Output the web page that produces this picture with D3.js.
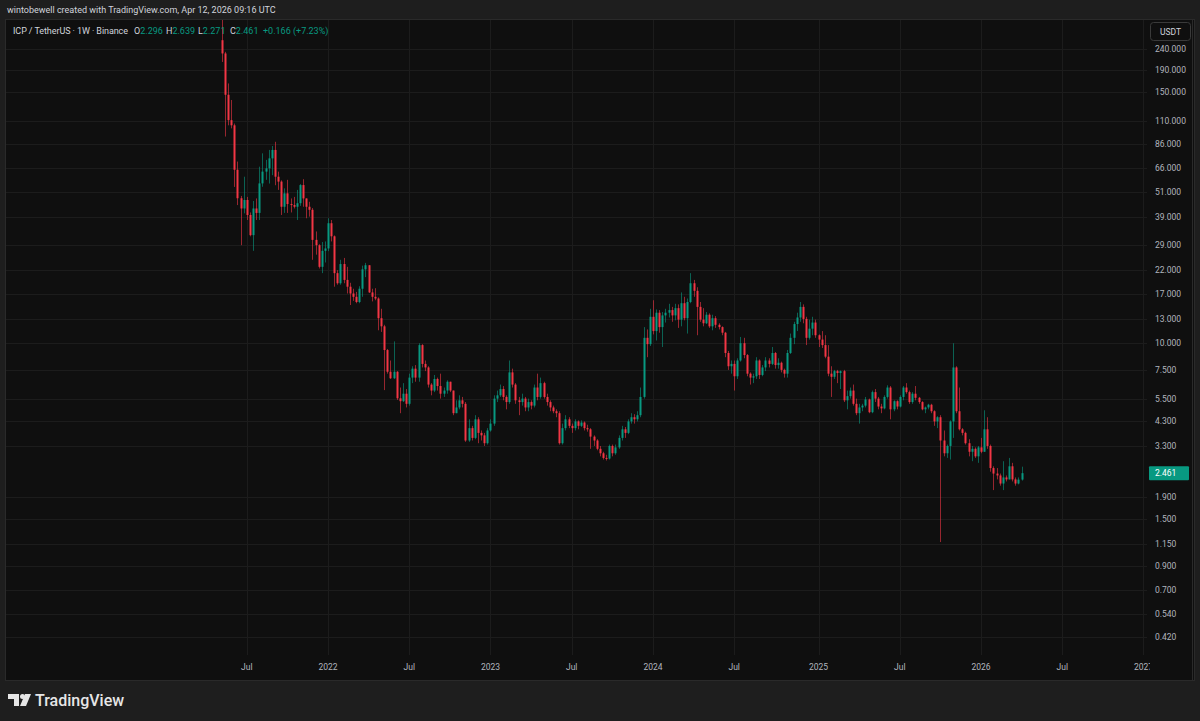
<!DOCTYPE html>
<html>
<head>
<meta charset="utf-8">
<title>ICP / TetherUS 1W</title>
<script src="https://cdn.jsdelivr.net/npm/d3@7"></script>
<style>
    html, body { margin: 0; padding: 0; background: #1e1e1e; overflow: hidden; }
    svg { display: block; }
</style>
</head>
<body>
<svg id="chart" width="1200" height="721"></svg>
<script>
// Weekly candles, ICPUSDT on Binance, first bar week of 2021-05-10
const firstWeek = '2021-05-10';

const opens = [
    263, 228, 146, 111, 105, 65, 47.8, 42.8, 46.9, 39.9,
    32.1, 42.8, 40.8, 56.1, 63.7, 66, 73.5, 80.5, 60.3, 57.2,
    43.6, 50.4, 44.9, 44.4, 43.6, 45.3, 55.1, 47.7, 43.6, 42.2,
    30.5, 28.8, 22.8, 27.1, 27.8, 36.5, 31.7, 21.3, 19.1, 23.5,
    19.8, 18.4, 17.1, 16.5, 15.6, 18.0, 22.2, 23.2, 17.3, 16.5,
    16.2, 13.1, 12.0, 9.29, 7.35, 6.85, 7.35, 5.52, 5.35, 5.8,
    5.2, 6.9, 7.6, 6.9, 9.8, 8.0, 7.7, 6.4, 6.0, 6.8,
    6.3, 5.8, 6.0, 6.6, 6.0, 4.7, 5.0, 5.4, 5.2, 3.5,
    4.0, 3.6, 4.4, 3.8, 3.7, 3.4, 3.9, 4.2, 5.5, 5.7,
    6.1, 5.6, 5.3, 7.3, 6.4, 5.4, 5.3, 5.5, 5.0, 5.3,
    5.1, 6.2, 5.6, 6.5, 5.6, 5.3, 5.0, 4.8, 4.7, 3.4,
    4.0, 4.4, 4.1, 4.0, 4.3, 4.1, 4.25, 4.0, 3.95, 3.65,
    3.5, 3.2, 3.05, 2.9, 2.88, 3.3, 3.05, 3.25, 3.6, 3.95,
    3.8, 4.3, 4.5, 4.4, 4.6, 5.6, 10.6, 9.9, 13.3, 11.4,
    13.9, 11.9, 13.5, 13.9, 14.3, 13.5, 14.6, 12.9, 15.4, 13.1,
    15.6, 19.1, 17.6, 14.8, 12.9, 12.4, 13.6, 12.0, 13.1, 12.2,
    11.9, 11.2, 9.0, 7.8, 8.0, 7.0, 8.3, 10.0, 8.8, 7.2,
    6.9, 7.0, 8.3, 7.1, 7.7, 8.3, 8.0, 9.0, 7.9, 8.1,
    7.5, 7.2, 9.0, 10.6, 12.3, 13.2, 14.8, 13.0, 10.6, 11.7,
    12.5, 10.9, 10.4, 9.8, 8.65, 7.2, 6.96, 7.4, 7.25, 7.4,
    5.4, 5.65, 6.0, 5.2, 4.7, 5.0, 5.1, 5.45, 4.75, 5.9,
    5.5, 5.05, 4.95, 5.6, 6.2, 4.9, 5.35, 5.05, 5.6, 6.2,
    5.9, 5.3, 5.8, 5.55, 5.3, 4.9, 5.0, 5.15, 4.8, 4.3,
    4.5, 3.5, 3.05, 3.3, 4.3, 7.7, 4.8, 3.95, 3.8, 3.4,
    3.1, 3.2, 2.95, 3.25, 3.1, 3.95, 3.3, 2.6, 2.45, 2.4,
    2.2, 2.35, 2.3, 2.65, 2.3, 2.2, 2.296
];

const highs = [
    750, 232, 165, 138, 107, 71, 49, 60.3, 48.5, 41,
    46.4, 47.7, 67.2, 77.6, 72.3, 80.5, 84, 87.9, 63.7, 58,
    53.2, 58.3, 47.7, 48.5, 52.3, 55.7, 58.7, 47.7, 46, 43,
    33.4, 29.1, 29.8, 30, 38.5, 37.8, 32, 22, 24.6, 25.1,
    22.8, 19.2, 18, 17.4, 18.5, 23.1, 23.8, 23.2, 18, 18.1,
    16.4, 14.5, 12.2, 9.4, 8.3, 10.2, 7.4, 6.2, 6.5, 6.1,
    7.2, 7.8, 7.9, 10.0, 9.9, 8.3, 7.8, 6.5, 7.1, 6.9,
    7.2, 6.2, 6.7, 6.6, 6.0, 5.4, 5.7, 5.6, 5.3, 4.4,
    4.1, 4.6, 4.5, 3.9, 3.8, 4.0, 4.4, 5.7, 6.0, 6.4,
    6.3, 5.7, 8.3, 7.6, 6.5, 5.6, 5.8, 5.6, 5.5, 5.4,
    6.4, 7.2, 6.9, 6.6, 5.8, 5.4, 5.1, 4.9, 4.8, 4.2,
    4.6, 4.5, 4.2, 4.4, 4.35, 4.35, 4.3, 4.15, 4.0, 3.7,
    3.55, 3.3, 3.1, 3.0, 3.35, 3.35, 3.35, 3.7, 4.1, 4.05,
    4.4, 4.7, 4.65, 4.8, 6.2, 11.9, 11.6, 14.5, 15.9, 14.4,
    14.3, 14.0, 14.5, 15.3, 14.8, 15.3, 15.2, 17.3, 16.5, 16.2,
    21.3, 19.8, 18.3, 15.6, 14.6, 14.0, 13.8, 13.6, 13.4, 12.4,
    12.0, 11.3, 9.2, 8.3, 8.3, 8.5, 10.7, 10.6, 8.9, 7.3,
    7.2, 8.6, 8.4, 7.9, 8.6, 8.5, 9.6, 9.1, 8.5, 8.2,
    7.6, 9.3, 11.1, 12.6, 13.9, 15.6, 15.2, 13.3, 12.9, 13.3,
    12.9, 11.0, 11.4, 10.9, 9.8, 7.8, 7.5, 7.5, 7.45, 7.5,
    6.0, 6.2, 6.4, 5.5, 5.2, 5.2, 5.6, 5.5, 6.0, 6.1,
    5.6, 5.2, 5.7, 6.35, 6.3, 5.4, 5.4, 5.7, 6.3, 6.5,
    6.0, 5.9, 6.3, 5.6, 5.35, 5.05, 5.2, 5.2, 4.85, 4.55,
    4.6, 3.9, 3.35, 4.35, 10.0, 7.8, 6.2, 4.0, 3.85, 3.55,
    3.3, 3.25, 3.3, 3.6, 4.85, 4.5, 3.35, 2.65, 2.6, 2.45,
    2.8, 2.4, 2.9, 2.75, 2.35, 2.35, 2.639
];

const lows = [
    208, 93, 105, 101.6, 54, 44.4, 28.8, 40.6, 37.8, 31.7,
    27.1, 37.8, 37.8, 54.1, 58.3, 56, 61.3, 55, 52.3, 39.9,
    40.8, 40.8, 41, 42.8, 37.8, 44, 43.6, 38.5, 39.2, 24.6,
    26, 22.4, 21.3, 23.9, 27, 30, 18.4, 18.8, 18.8, 19.1,
    17.1, 15.1, 15.8, 15.4, 15.4, 16.5, 20.4, 17.2, 15.7, 15.9,
    11.5, 11.3, 6.03, 7.2, 6.8, 6.8, 5.42, 4.7, 5.3, 5.0,
    5.1, 6.5, 6.6, 6.6, 7.7, 7.4, 6.2, 5.7, 5.9, 6.0,
    5.5, 5.6, 5.8, 5.9, 4.6, 4.7, 4.9, 5.0, 3.45, 3.45,
    3.5, 3.55, 3.4, 3.5, 3.3, 3.35, 3.85, 4.1, 5.3, 5.6,
    5.4, 4.9, 5.2, 6.2, 5.2, 4.6, 5.1, 4.8, 4.8, 4.9,
    5.0, 5.4, 5.5, 5.5, 5.1, 4.8, 4.7, 4.5, 3.35, 3.35,
    3.9, 4.0, 3.8, 3.9, 3.95, 4.05, 3.9, 3.85, 3.2, 3.3,
    3.15, 2.95, 2.85, 2.82, 2.85, 2.95, 3.0, 3.2, 3.5, 3.6,
    3.75, 4.2, 4.2, 4.3, 4.5, 5.5, 8.6, 9.7, 11.0, 10.3,
    11.2, 9.6, 12.5, 13.2, 12.6, 12.8, 11.8, 12.0, 12.8, 11.1,
    15.4, 16.5, 10.9, 12.6, 12.0, 12.3, 11.8, 11.5, 11.8, 11.6,
    10.9, 8.6, 7.5, 7.2, 6.0, 6.8, 8.2, 8.5, 7.0, 6.4,
    6.5, 6.8, 6.8, 7.0, 7.4, 7.7, 7.9, 7.6, 7.6, 7.3,
    6.9, 6.9, 8.9, 9.9, 11.4, 12.6, 12.4, 9.8, 10.4, 10.9,
    10.6, 9.6, 9.5, 8.5, 7.0, 5.6, 6.8, 6.5, 6.1, 5.3,
    4.9, 5.5, 5.1, 4.6, 4.2, 4.8, 5.0, 4.7, 4.7, 5.3,
    4.9, 4.7, 4.9, 5.5, 4.4, 4.8, 4.9, 5.0, 5.4, 5.8,
    5.2, 5.2, 5.4, 5.2, 4.85, 4.7, 4.9, 4.7, 4.1, 4.0,
    1.17, 2.95, 2.9, 2.85, 3.6, 4.7, 3.9, 3.7, 3.35, 2.95,
    2.8, 2.9, 2.75, 3.05, 3.1, 3.2, 2.5, 2.05, 2.3, 2.15,
    2.05, 2.25, 2.3, 2.25, 2.15, 2.18, 2.271
];

const closes = [
    228, 146, 111, 105, 65, 47.8, 42.8, 46.9, 39.9, 32.1,
    42.8, 40.8, 56.1, 63.7, 66, 73.5, 80.5, 60.3, 57.2, 43.6,
    50.4, 44.9, 44.4, 43.6, 45.3, 55.1, 47.7, 43.6, 42.2, 30.5,
    28.8, 22.8, 27.1, 27.8, 36.5, 31.7, 21.3, 19.1, 23.5, 19.8,
    18.4, 17.1, 16.5, 15.6, 18.0, 22.2, 23.2, 17.3, 16.5, 16.2,
    13.1, 12.0, 9.29, 7.35, 6.85, 7.35, 5.52, 5.35, 5.8, 5.2,
    6.9, 7.6, 6.9, 9.8, 8.0, 7.7, 6.4, 6.0, 6.8, 6.3,
    5.8, 6.0, 6.6, 6.0, 4.7, 5.0, 5.4, 5.2, 3.5, 4.0,
    3.6, 4.4, 3.8, 3.7, 3.4, 3.9, 4.2, 5.5, 5.7, 6.1,
    5.6, 5.3, 7.3, 6.4, 5.4, 5.3, 5.5, 5.0, 5.3, 5.1,
    6.2, 5.6, 6.5, 5.6, 5.3, 5.0, 4.8, 4.7, 3.4, 4.0,
    4.4, 4.1, 4.0, 4.3, 4.1, 4.25, 4.0, 3.95, 3.65, 3.5,
    3.2, 3.05, 2.9, 2.88, 3.3, 3.05, 3.25, 3.6, 3.95, 3.8,
    4.3, 4.5, 4.4, 4.6, 5.6, 10.6, 9.9, 13.3, 11.4, 13.9,
    11.9, 13.5, 13.9, 14.3, 13.5, 14.6, 12.9, 15.4, 13.1, 15.6,
    19.1, 17.6, 14.8, 12.9, 12.4, 13.6, 12.0, 13.1, 12.2, 11.9,
    11.2, 9.0, 7.8, 8.0, 7.0, 8.3, 10.0, 8.8, 7.2, 6.9,
    7.0, 8.3, 7.1, 7.7, 8.3, 8.0, 9.0, 7.9, 8.1, 7.5,
    7.2, 9.0, 10.6, 12.3, 13.2, 14.8, 13.0, 10.6, 11.7, 12.5,
    10.9, 10.4, 9.8, 8.65, 7.2, 6.96, 7.4, 7.25, 7.4, 5.4,
    5.65, 6.0, 5.2, 4.7, 5.0, 5.1, 5.45, 4.75, 5.9, 5.5,
    5.05, 4.95, 5.6, 6.2, 4.9, 5.35, 5.05, 5.6, 6.2, 5.9,
    5.3, 5.8, 5.55, 5.3, 4.9, 5.0, 5.15, 4.8, 4.3, 4.5,
    3.5, 3.05, 3.3, 4.3, 7.7, 4.8, 3.95, 3.8, 3.4, 3.1,
    3.2, 2.95, 3.25, 3.1, 3.95, 3.3, 2.6, 2.45, 2.4, 2.2,
    2.35, 2.3, 2.65, 2.3, 2.2, 2.295, 2.461
];

const priceTicks = [240, 190, 150, 110, 86, 66, 51, 39, 29, 22, 17, 13, 10, 7.5, 5.5, 4.3, 3.3, 1.9, 1.5, 1.15, 0.9, 0.7, 0.54, 0.42];
const timeTickDates = ['2021-07-05', '2022-01-03', '2022-07-04', '2023-01-02', '2023-07-03', '2024-01-01',
    '2024-07-01', '2025-01-06', '2025-07-07', '2026-01-05', '2026-07-06', '2027-01-04'];
const timeTickLabels = ['Jul', '2022', 'Jul', '2023', 'Jul', '2024', 'Jul', '2025', 'Jul', '2026', 'Jul', '2027'];

const headerText = 'wintobewell created with TradingView.com, Apr 12, 2026 09:16 UTC';
const symbolText = 'ICP / TetherUS \u00b7 1W \u00b7 Binance';

(function() {
    'use strict';

    const UP = '#089981';
    const DOWN = '#f23645';
    const FONT = 'Roboto, "Noto Sans", sans-serif';

    class WeeklyCandleChart {
        constructor(svgId) {
            this.svg = d3.select(svgId);
            this.pane = { left: 6, right: 1147, top: 20, bottom: 655 };
            this.bars = this.buildBars();
            this.init();
        }

        buildBars() {
            const start = d3.utcParse('%Y-%m-%d')(firstWeek);
            return closes.map((c, i) => ({
                date: d3.utcWeek.offset(start, i),
                open: opens[i],
                high: highs[i],
                low: lows[i],
                close: c
            }));
        }

        init() {
            const parse = d3.utcParse('%Y-%m-%d');
            // anchors: 2022 bar at x=328, 2026 bar at x=981
            this.x = d3.scaleUtc()
                .domain([parse('2022-01-03'), parse('2026-01-05')])
                .range([328, 981]);
            this.y = d3.scaleLog()
                .domain([0.42, 240])
                .range([637, 48.7]);

            this.drawFrame();
            this.drawGrid(parse);
            this.drawCandles();
            this.drawPriceAxis();
            this.drawTimeAxis(parse);
            this.drawLegend();
            this.drawFooter();
        }

        drawFrame() {
            const p = this.pane;
            this.svg.append('rect')
                .attr('x', 0).attr('y', 0).attr('width', 1200).attr('height', 721)
                .attr('fill', '#1e1e1e');
            this.svg.append('rect')
                .attr('x', p.left - 0.5).attr('y', p.top - 0.5)
                .attr('width', 1195 - p.left).attr('height', 681 - p.top)
                .attr('fill', '#0f0f0f')
                .attr('stroke', '#2a2a2a');

            this.svg.append('text')
                .attr('x', 7).attr('y', 13)
                .attr('fill', '#d1d4dc')
                .attr('font-family', FONT)
                .attr('font-size', 9)
                .text(headerText);

            const defs = this.svg.append('defs');
            defs.append('clipPath').attr('id', 'pane-clip')
                .append('rect')
                .attr('x', p.left).attr('y', p.top)
                .attr('width', p.right - p.left).attr('height', p.bottom - p.top);
            defs.append('clipPath').attr('id', 'time-clip')
                .append('rect')
                .attr('x', p.left).attr('y', p.bottom)
                .attr('width', 1150 - p.left).attr('height', 26);
        }

        drawGrid(parse) {
            const p = this.pane;
            const grid = this.svg.append('g').attr('clip-path', 'url(#pane-clip)');
            grid.selectAll('line.h')
                .data(priceTicks)
                .enter().append('line')
                .attr('class', 'h')
                .attr('x1', p.left).attr('x2', p.right)
                .attr('y1', d => Math.round(this.y(d)) + 0.5)
                .attr('y2', d => Math.round(this.y(d)) + 0.5)
                .attr('stroke', '#1c1c1c');
            grid.selectAll('line.v')
                .data(timeTickDates)
                .enter().append('line')
                .attr('class', 'v')
                .attr('x1', d => Math.round(this.x(parse(d))) + 0.5)
                .attr('x2', d => Math.round(this.x(parse(d))) + 0.5)
                .attr('y1', p.top).attr('y2', p.bottom)
                .attr('stroke', '#1c1c1c');
        }

        drawCandles() {
            const g = this.svg.append('g').attr('clip-path', 'url(#pane-clip)');
            const candle = g.selectAll('g.candle')
                .data(this.bars)
                .enter().append('g')
                .attr('class', 'candle');

            candle.append('line')
                .attr('x1', d => Math.round(this.x(d.date)) + 0.5)
                .attr('x2', d => Math.round(this.x(d.date)) + 0.5)
                .attr('y1', d => this.y(d.high))
                .attr('y2', d => this.y(d.low))
                .attr('stroke', d => d.close >= d.open ? UP : DOWN)
                .attr('stroke-opacity', 0.6)
                .attr('stroke-width', 1);

            candle.append('rect')
                .attr('x', d => Math.round(this.x(d.date)) - 0.5)
                .attr('width', 2)
                .attr('y', d => this.y(Math.max(d.open, d.close)))
                .attr('height', d => Math.max(1, this.y(Math.min(d.open, d.close)) - this.y(Math.max(d.open, d.close))))
                .attr('fill', d => d.close >= d.open ? UP : DOWN);
        }

        drawPriceAxis() {
            const axis = this.svg.append('g');
            axis.selectAll('text')
                .data(priceTicks)
                .enter().append('text')
                .attr('x', 1155)
                .attr('y', d => this.y(d) + 3)
                .attr('fill', '#b2b5be')
                .attr('font-family', FONT)
                .attr('font-size', 8.5)
                .text(d => d3.format('.3f')(d));

            // currency box
            axis.append('rect')
                .attr('x', 1150.5).attr('y', 22.5).attr('width', 40).attr('height', 18).attr('rx', 3)
                .attr('fill', '#0f0f0f').attr('stroke', '#3a3a3a');
            axis.append('text')
                .attr('x', 1170.5).attr('y', 34.5)
                .attr('text-anchor', 'middle')
                .attr('fill', '#d1d4dc')
                .attr('font-family', FONT)
                .attr('font-size', 8.5)
                .text('USDT');

            // last price label
            const last = this.bars[this.bars.length - 1];
            const ly = this.y(last.close);
            axis.append('rect')
                .attr('x', 1149).attr('y', ly - 7).attr('width', 40).attr('height', 14)
                .attr('fill', UP).attr('rx', 1);
            axis.append('text')
                .attr('x', 1155).attr('y', ly + 3)
                .attr('fill', '#ffffff')
                .attr('font-family', FONT)
                .attr('font-size', 8.5)
                .text(d3.format('.3f')(last.close));

            axis.append('line')
                .attr('x1', 1192.5).attr('x2', 1192.5)
                .attr('y1', this.pane.top).attr('y2', 681)
                .attr('stroke', '#2a2a2a');
        }

        drawTimeAxis(parse) {
            const axis = this.svg.append('g').attr('clip-path', 'url(#time-clip)');
            axis.selectAll('text')
                .data(timeTickDates)
                .enter().append('text')
                .attr('x', d => this.x(parse(d)))
                .attr('y', 670)
                .attr('text-anchor', 'middle')
                .attr('fill', '#b2b5be')
                .attr('font-family', FONT)
                .attr('font-size', 8.5)
                .text((d, i) => timeTickLabels[i]);
        }

        drawLegend() {
            const last = this.bars[this.bars.length - 1];
            const prev = this.bars[this.bars.length - 2];
            const fmt = d3.format('.3f');
            const change = last.close - prev.close;
            const pct = change / prev.close * 100;

            const g = this.svg.append('g')
                .attr('font-family', FONT)
                .attr('font-size', 9);
            g.append('text')
                .attr('x', 13).attr('y', 34)
                .attr('fill', '#d1d4dc')
                .attr('textLength', 115)
                .text(symbolText);

            // label positions follow the reference legend
            const fields = [['O', last.open, 134], ['H', last.high, 166], ['L', last.low, 198], ['C', last.close, 230]];
            fields.forEach(([k, v, x]) => {
                const t = g.append('text').attr('x', x).attr('y', 34);
                t.append('tspan').attr('fill', '#d1d4dc').text(k);
                t.append('tspan').attr('fill', UP).text(fmt(v));
            });
            g.append('text')
                .attr('x', 263).attr('y', 34)
                .attr('fill', UP)
                .text('+' + fmt(change) + ' (+' + pct.toFixed(2) + '%)');
        }

        drawFooter() {
            const g = this.svg.append('g').attr('fill', '#e6e6e6');
            // logo mark
            g.append('path').attr('d', 'M8,694 H19 V706 H14 V699 H8 Z');
            g.append('circle').attr('cx', 22.5).attr('cy', 696.5).attr('r', 2.5);
            g.append('path').attr('d', 'M25,694 H31 L26,706 H20 Z');
            g.append('text')
                .attr('x', 35).attr('y', 706)
                .attr('font-family', FONT)
                .attr('font-size', 16)
                .attr('font-weight', 500)
                .text('TradingView');
        }
    }

    if (document.readyState === 'loading') {
        document.addEventListener('DOMContentLoaded', () => { window.icpChart = new WeeklyCandleChart('#chart'); });
    } else {
        window.icpChart = new WeeklyCandleChart('#chart');
    }
})();
</script>
</body>
</html>
